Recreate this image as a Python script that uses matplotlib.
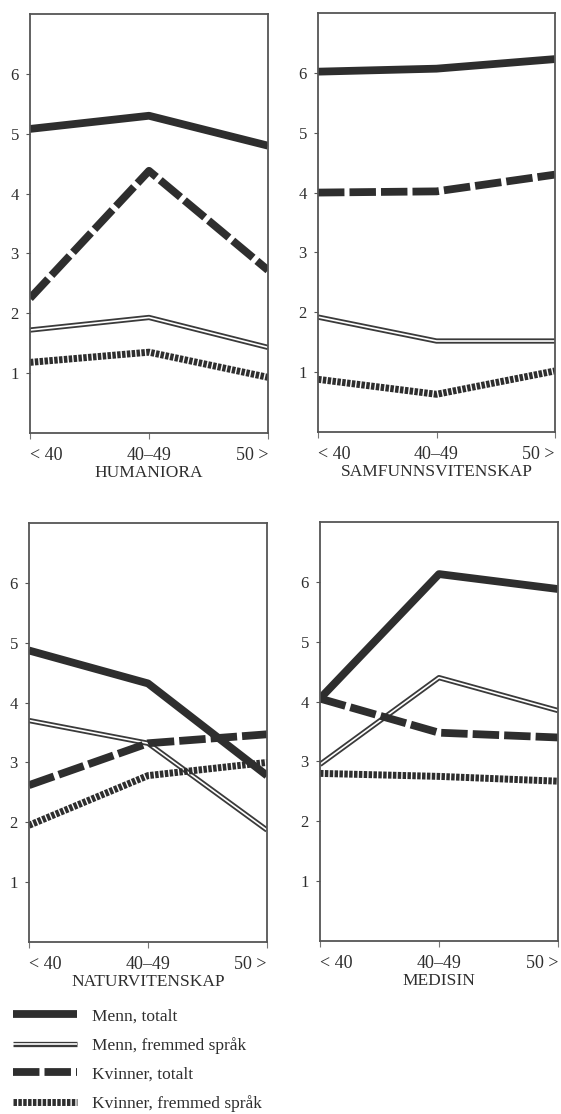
import matplotlib
matplotlib.use('Agg')
import matplotlib.pyplot as plt
import matplotlib.patheffects as pe

# age groups on the x axis
AGE_GROUPS = ['< 40', '40\u201349', '50 >']
FIELDS = ['HUMANIORA', 'SAMFUNNSVITENSKAP', 'NATURVITENSKAP', 'MEDISIN']

# one row per field, same order as FIELDS
menn_totalt = [[5.08, 5.30, 4.80],
               [6.02, 6.07, 6.23],
               [4.87, 4.32, 2.78],
               [4.05, 6.13, 5.88]]
menn_fremmed = [[1.72, 1.93, 1.43],
                [1.92, 1.52, 1.52],
                [3.70, 3.32, 1.87],
                [2.95, 4.40, 3.85]]
kvinner_totalt = [[2.25, 4.38, 2.72],
                  [4.00, 4.02, 4.30],
                  [2.62, 3.32, 3.47],
                  [4.05, 3.48, 3.40]]
kvinner_fremmed = [[1.18, 1.35, 0.93],
                   [0.88, 0.63, 1.02],
                   [1.95, 2.78, 3.00],
                   [2.80, 2.75, 2.67]]

SERIES_LABELS = ['Menn, totalt', 'Menn, fremmed språk',
                 'Kvinner, totalt', 'Kvinner, fremmed språk']

INK = '#2e2e2e'
plt.rcParams['font.family'] = ['Liberation Serif', 'DejaVu Serif']
plt.rcParams['text.color'] = INK

# panel boxes in pixels (left, top, right, bottom) on a 561x1114 canvas
W, H = 561, 1114
BOXES = [(30, 14, 268, 433),
         (318, 13, 555, 432),
         (29, 523, 267, 942),
         (320, 522, 558, 941)]


def style_kwargs(i):
    if i == 0:
        return dict(color=INK, lw=5.6, solid_capstyle='butt')
    if i == 1:
        return dict(color='white', lw=1.2, solid_capstyle='butt',
                    path_effects=[pe.Stroke(linewidth=3.8, foreground='#3a3a3a'),
                                  pe.Normal()])
    if i == 2:
        return dict(color=INK, lw=5.6, dashes=(3.4, 0.65), dash_capstyle='butt')
    return dict(color=INK, lw=5.0, dashes=(0.5, 0.2), dash_capstyle='butt')


fig = plt.figure(figsize=(W / 100, H / 100), dpi=100)
handles = []
for k, (field, box) in enumerate(zip(FIELDS, BOXES)):
    l, t, r, b = box
    ax = fig.add_axes([l / W, 1 - b / H, (r - l) / W, (b - t) / H])
    x = range(len(AGE_GROUPS))
    data = [menn_totalt[k], menn_fremmed[k], kvinner_totalt[k], kvinner_fremmed[k]]
    for i, vals in enumerate(data):
        line, = ax.plot(x, vals, label=SERIES_LABELS[i], **style_kwargs(i))
        if k == 0:
            handles.append(line)
    ax.set_xlim(0, 2)
    ax.set_ylim(0, 7)
    ax.set_yticks([1, 2, 3, 4, 5, 6])
    ax.set_xticks(list(x))
    ax.set_xticklabels(AGE_GROUPS, fontsize=13, color=INK)
    labs = ax.get_xticklabels()
    labs[0].set_ha('left')
    labs[2].set_ha('right')
    ax.tick_params(axis='y', labelsize=12, length=3, width=0.8, pad=5,
                   colors='#555555', labelcolor=INK)
    ax.tick_params(axis='x', length=4, width=0.8, pad=6, colors='#777777',
                   labelcolor=INK)
    ax.set_xlabel(field, fontsize=12.5, labelpad=1, color=INK)
    for s in ax.spines.values():
        s.set_color('#555555')
        s.set_linewidth(1.3)

fig.legend(handles=handles, loc='upper left',
           bbox_to_anchor=(13 / W, 1 - 1008 / H), frameon=False,
           fontsize=12.5, handlelength=3.7, handletextpad=0.85,
           labelspacing=0.73, borderpad=0, borderaxespad=0)

fig.savefig('out.png', dpi=100)
